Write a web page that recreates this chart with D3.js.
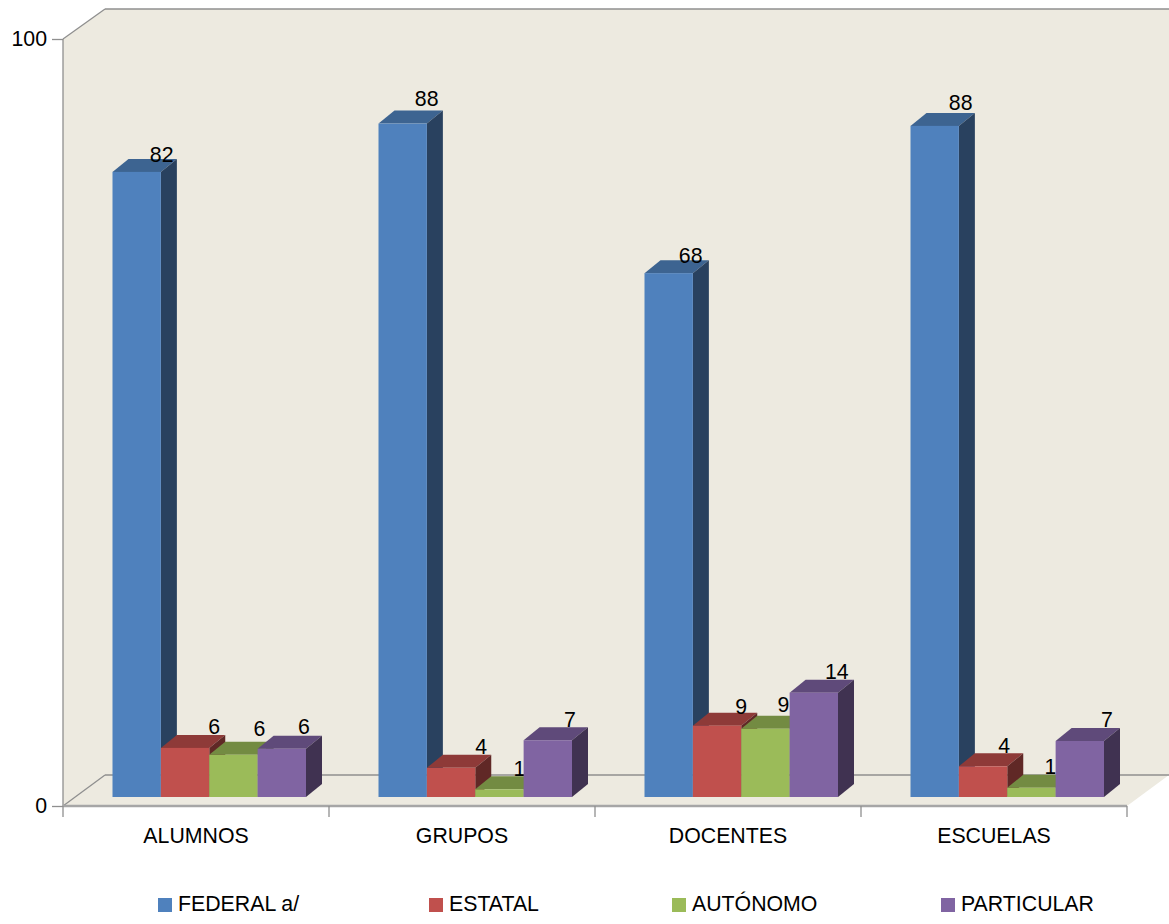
<!DOCTYPE html>
<html><head><meta charset="utf-8">
<script src="https://cdn.jsdelivr.net/npm/d3@7/dist/d3.min.js"></script>
<style>html,body{margin:0;background:#fff}svg{display:block}text{font-family:"Liberation Sans",Arial,sans-serif;fill:#000}</style>
</head><body><div id="c"></div>
<script>
const categories = ["ALUMNOS","GRUPOS","DOCENTES","ESCUELAS"];
const seriesNames = ["FEDERAL a/","ESTATAL","AUTÓNOMO","PARTICULAR"];
const federal = [81.5,87.8,68.3,87.5];
const estatal = [6.4,3.8,9.3,4.0];
const autonomo = [5.5,1.0,8.9,1.2];
const particular = [6.3,7.4,13.6,7.3];
const labelsFederal = ["82","88","68","88"];
const labelsEstatal = ["6","4","9","4"];
const labelsAutonomo = ["6","1","9","1"];
const labelsParticular = ["6","7","14","7"];
const yTicks = [0,100];
const front = ["#4F81BD","#C0504D","#9BBB59","#8064A2"];
const topC = ["#3D6491","#8E3A38","#738B42","#5F4A7A"];
const sideC = ["#29415F","#602826","#4E5E2D","#403251"];

const W=1169,H=924, X0=63,X1=1127,Y0=806,Y100=39, DX=42,DY=31, dx=16,dy=13, lift=9, FS=21.3;
// hand placement of the value labels, per series then per category: [shift x, shift y]
const labelShift = [
  [[1,-1],[0,-9],[-2,-1],[2,-7]],
  [[5,-5],[6,-5],[0,-3],[-3,-4]],
  [[2,-10],[-4,-4],[-6,-8],[-5,-5]],
  [[-2,-6],[-2,-4],[-1,-5],[3,-5]]
];
const svg=d3.select("#c").append("svg").attr("width",W).attr("height",H);
const y=d3.scaleLinear().domain([0,100]).range([Y0,Y100]);
const x0=d3.scaleBand().domain(categories).range([X0,X1]);
const x1=d3.scaleBand().domain(seriesNames).range([49.5,243]);
const poly=p=>p.map(d=>d.join(",")).join(" ");

svg.append("polygon").attr("points",poly([[X0,Y100],[X0+DX,Y100-DY+1],[W,Y100-DY+1],[W,Y0-DY],[X1,Y0],[X0,Y0]])).attr("fill","#EDEAE0");
const lc="#8f8f8f";
const L=(a,b,c,d,w)=>svg.append("line").attr("x1",a).attr("y1",b).attr("x2",c).attr("y2",d).attr("stroke",lc).attr("stroke-width",w||1.3);
L(X0,Y100,X0+DX,Y100-DY+1); L(X0+DX,Y100-DY+1,W,Y100-DY+1);
L(X0,Y0,X0+DX,Y0-DY); L(X0+DX,Y0-DY,W,Y0-DY);

const all=[federal,estatal,autonomo,particular], labs=[labelsFederal,labelsEstatal,labelsAutonomo,labelsParticular];
categories.forEach((c,i)=>{
  seriesNames.forEach((s,j)=>{
    const v=all[j][i], l=x0(c)+x1(s), r=l+x1.bandwidth(), t=y(v)-lift, b=Y0-lift;
    const g=svg.append("g");
    g.append("polygon").attr("points",poly([[l,t],[l+dx,t-dy],[r+dx,t-dy],[r,t]])).attr("fill",topC[j]);
    g.append("polygon").attr("points",poly([[r,t],[r+dx,t-dy],[r+dx,b-dy],[r,b]])).attr("fill",sideC[j]);
    g.append("rect").attr("x",l).attr("y",t).attr("width",r-l).attr("height",b-t).attr("fill",front[j]);
    const sh=labelShift[j][i];
    g.append("text").attr("x",(l+r)/2+24+sh[0]).attr("y",t-9+sh[1]).attr("text-anchor","middle").attr("font-size",FS).text(labs[j][i]);
  });
});

const ay=svg.append("g").attr("transform",`translate(${X0},0)`).call(d3.axisLeft(y).tickValues(yTicks).tickSize(11).tickPadding(5).tickFormat(d3.format("d")));
ay.selectAll("line,path").attr("stroke",lc).attr("stroke-width",1.3);
ay.select("path").attr("d",`M0,${Y100}V${Y0}`);
ay.selectAll("text").attr("font-size",FS).attr("font-family",null).attr("fill","#000");
const ax=svg.append("g").attr("transform",`translate(0,${Y0})`).call(d3.axisBottom(x0).tickSize(0).tickPadding(22));
ax.select("path").attr("d",`M${X0},0H${X1}`).attr("stroke","#a6a6a6").attr("stroke-width",2.5);
ax.selectAll("text").attr("font-size",FS).attr("font-family",null).attr("fill","#000");
[...categories.map(c=>x0(c)),X1].forEach(t=>L(t,Y0,t,Y0+11));

const lg=[158,429,672,941];
seriesNames.forEach((s,j)=>{
  svg.append("rect").attr("x",lg[j]).attr("y",898).attr("width",14).attr("height",14).attr("fill",front[j]);
  svg.append("text").attr("x",lg[j]+20).attr("y",911).attr("font-size",FS).text(s);
});
</script></body></html>
